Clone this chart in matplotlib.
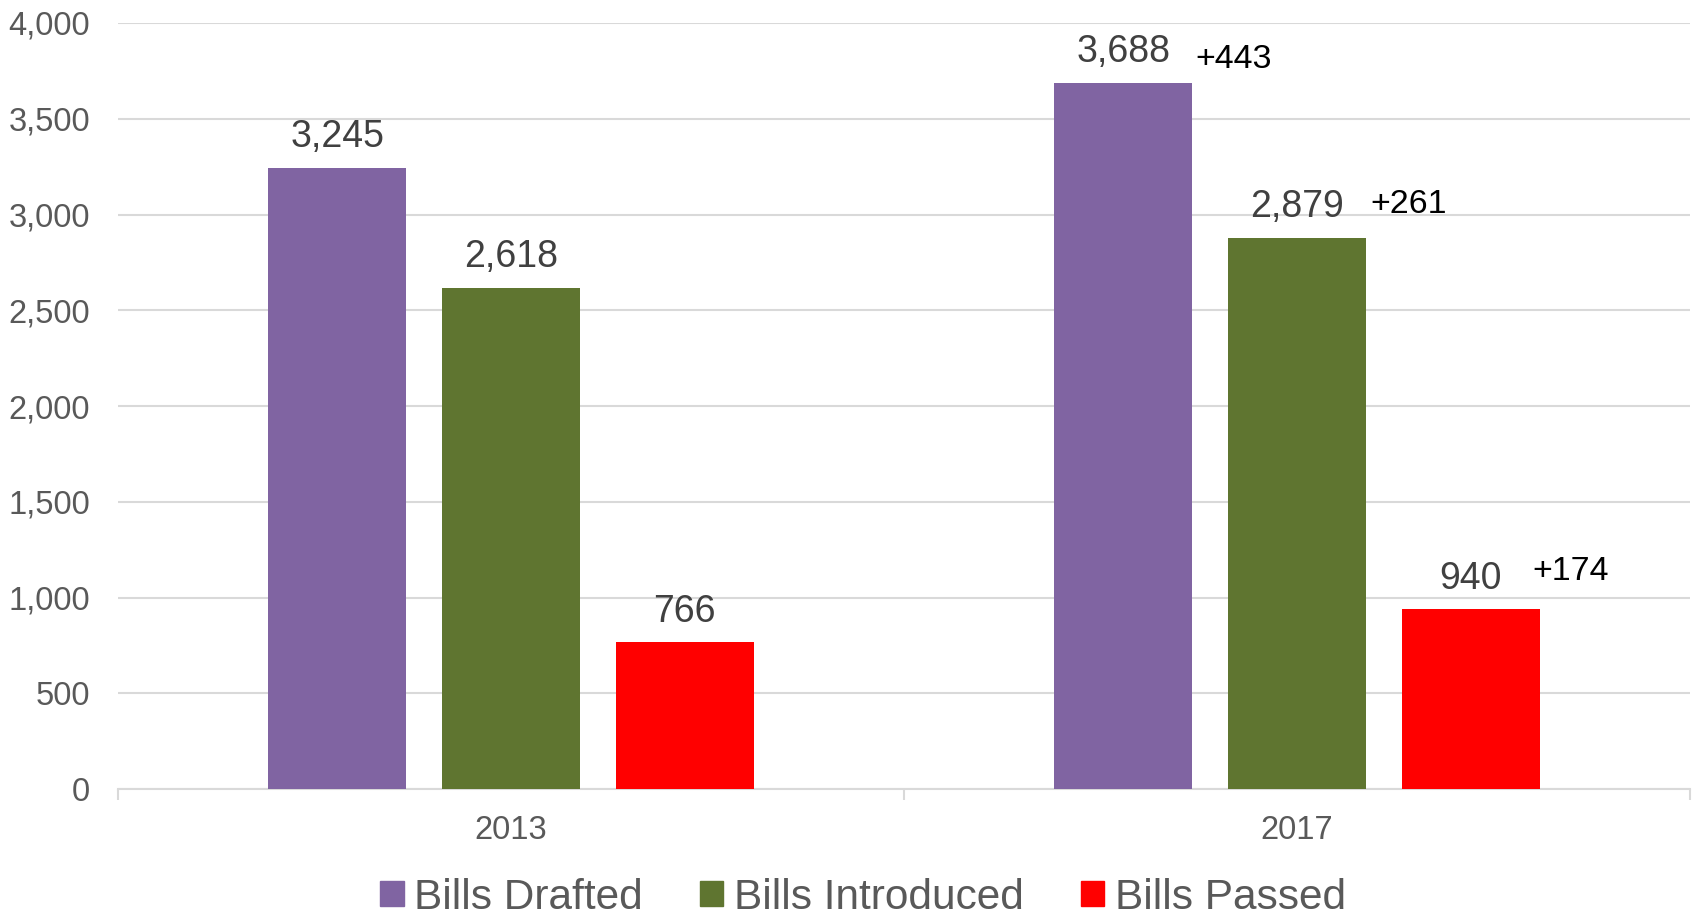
from matplotlib import pyplot as plt
from matplotlib.patches import Patch

plt.rcParams['font.family'] = ['Liberation Sans', 'DejaVu Sans']

years = ["2013", "2017"]
series_names = ["Bills Drafted", "Bills Introduced", "Bills Passed"]
drafted = [3245, 3688]
introduced = [2618, 2879]
passed = [766, 940]
increase = ["+443", "+261", "+174"]

colors = ["#8064A2", "#5F7530", "#FF0000"]
# offsets (points) of the increase labels from the top right corner of the bar
inc_dx = [2, 3, -5]
inc_dy = [16.7, 24.2, 27]
all_series = [drafted, introduced, passed]

fig = plt.figure(figsize=(16.96, 9.16), dpi=100)
ax = fig.add_axes([0.0696, 0.1386, 0.9269, 0.8363])

width = 0.1756
offset = 0.221
for i, (values, color) in enumerate(zip(all_series, colors)):
    xs = [k + (i - 1) * offset for k in range(len(years))]
    bars = ax.bar(xs, values, width=width, color=color, zorder=3)
    for b, v in zip(bars, values):
        ax.annotate(f"{v:,}", (b.get_x() + b.get_width() / 2, v),
                    xytext=(0, 9), textcoords="offset points",
                    ha="center", va="bottom", fontsize=27, color="#404040")
    # change from 2013 to 2017, next to the 2017 bar
    last = bars[-1]
    ax.annotate(increase[i], (last.get_x() + last.get_width(), values[-1]),
                xytext=(inc_dx[i], inc_dy[i]), textcoords="offset points",
                ha="left", va="center", fontsize=24.5, color="black", zorder=4)

ax.set_xlim(-0.5, len(years) - 0.5)
ax.set_ylim(0, 4000)
ax.set_yticks(range(0, 4001, 500))
ax.set_yticklabels([f"{t:,}" for t in range(0, 4001, 500)])
ax.set_xticks(range(len(years)))
ax.set_xticklabels(years)
ax.set_xticks([-0.5, 0.5, 1.5], minor=True)

ax.grid(axis="y", color="#D9D9D9", linewidth=1.5, zorder=0)
for s in ["top", "right", "left"]:
    ax.spines[s].set_visible(False)
ax.spines["bottom"].set_color("#D9D9D9")
ax.spines["bottom"].set_linewidth(1.5)

ax.tick_params(axis="y", length=0, pad=20, labelsize=23.5, labelcolor="#595959")
ax.tick_params(axis="x", which="major", length=0, pad=19, labelsize=23.5, labelcolor="#595959")
ax.tick_params(axis="x", which="minor", length=8, width=1.5, color="#D9D9D9")

handles = [Patch(color=c) for c in colors]
leg = fig.legend(handles, series_names, loc="center", bbox_to_anchor=(0.509, 0.02),
                 ncol=3, frameon=False, fontsize=30.5, handlelength=0.55, handleheight=0.55,
                 handletextpad=0.25, columnspacing=1.35)
for t in leg.get_texts():
    t.set_color("#595959")

fig.savefig("out.png", dpi=100)
